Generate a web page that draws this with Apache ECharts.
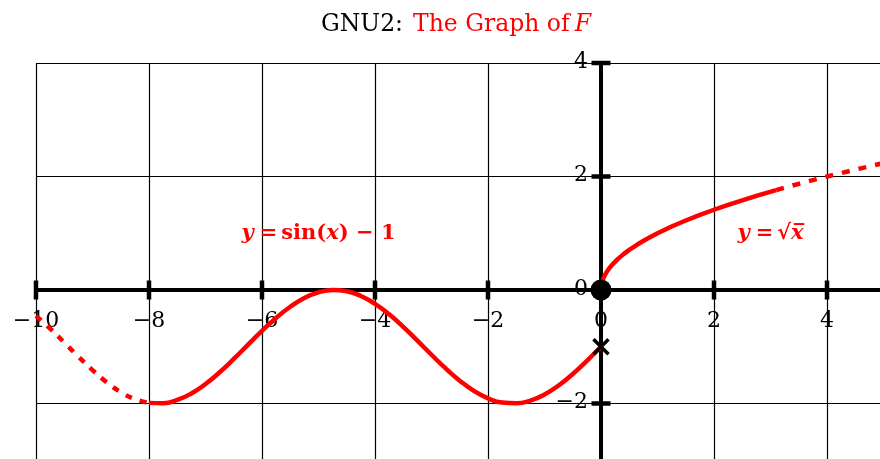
<!DOCTYPE html>
<html>
<head>
<meta charset="UTF-8">
<title>GNU2: The Graph of F</title>
<script src="https://cdn.jsdelivr.net/npm/echarts@6/dist/echarts.min.js"></script>
<style>
  html, body { margin: 0; padding: 0; background: #fff; }
  #main { width: 880px; height: 459px; }
</style>
</head>
<body>
<div id="main"></div>
<script>
  // y = sin(x) - 1, dashed part on [-10, -8]
  var sinDashX = [-10, -9.75, -9.5, -9.25, -9, -8.75, -8.5, -8.25, -8];
  var sinDashY = [-0.456, -0.680, -0.925, -1.174, -1.412, -1.625, -1.799, -1.922, -1.989];
  // solid part on [-8, 0]
  var sinX = [-8, -7.75, -7.5, -7.25, -7, -6.75, -6.5, -6.25, -6, -5.75, -5.5, -5.25, -5, -4.75, -4.5, -4.25,
    -4, -3.75, -3.5, -3.25, -3, -2.75, -2.5, -2.25, -2, -1.75, -1.5, -1.25, -1, -0.75, -0.5, -0.25, 0];
  var sinY = [-1.989, -1.995, -1.938, -1.823, -1.657, -1.450, -1.215, -0.967, -0.721, -0.492, -0.295, -0.141,
    -0.041, -0.001, -0.023, -0.105, -0.243, -0.428, -0.649, -0.892, -1.141, -1.382, -1.598, -1.778, -1.909,
    -1.984, -1.997, -1.949, -1.841, -1.682, -1.479, -1.247, -1.0];
  // y = sqrt(x), solid then dashed
  var sqrtX = [0, 0.005, 0.01, 0.02, 0.04, 0.07, 0.1, 0.15, 0.2, 0.3, 0.4, 0.5, 0.65, 0.8, 1, 1.25, 1.5, 1.75,
    2, 2.25, 2.5, 2.75, 3.1];
  var sqrtY = [0, 0.071, 0.1, 0.141, 0.2, 0.265, 0.316, 0.387, 0.447, 0.548, 0.632, 0.707, 0.806, 0.894, 1,
    1.118, 1.225, 1.323, 1.414, 1.5, 1.581, 1.658, 1.761];
  var sqrtDashX = [3.1, 3.5, 4, 4.5, 5, 5.5, 6];
  var sqrtDashY = [1.761, 1.871, 2, 2.121, 2.236, 2.345, 2.449];

  // tick positions / labels along the axes through the origin
  var xTicks = [-10, -8, -6, -4, -2, 0, 2, 4];
  var yTicks = [-2, 0, 2, 4];
  var closedPoint = [0, 0];
  var openPoint = [0, -1];

  function pairs(xs, ys) {
    return xs.map(function (x, i) { return [x, ys[i]]; });
  }

  var red = '#ff0000';
  var serif = '"DejaVu Serif", "Liberation Serif", serif';
  var fmt = function (v) { return String(v).replace('-', '\u2212'); };

  var chart = echarts.init(document.getElementById('main'));

  var option = {
    animation: false,
    title: {
      text: '{a|GNU2:}  {b|The Graph of} {c|F}',
      left: 316,
      top: 8,
      textStyle: {
        rich: {
          a: { fontFamily: serif, fontSize: 23.5, color: '#000', fontWeight: 'normal' },
          b: { fontFamily: serif, fontSize: 23.5, color: red, fontWeight: 'normal' },
          c: { fontFamily: serif, fontSize: 23.5, color: red, fontStyle: 'italic', fontWeight: 'normal' }
        }
      }
    },
    grid: { left: 36, right: -60, top: 63, bottom: -58, containLabel: false, outerBoundsMode: 'none' },
    xAxis: {
      type: 'value', min: -10, max: 6, interval: 2,
      axisLine: { onZero: true, lineStyle: { color: '#000', width: 4 } },
      axisTick: { show: false },
      axisLabel: { show: false },
      splitLine: { lineStyle: { color: '#000', width: 1.2 } }
    },
    yAxis: {
      type: 'value', min: -4, max: 4, interval: 2,
      axisLine: { onZero: true, lineStyle: { color: '#000', width: 4 } },
      axisTick: { show: false },
      axisLabel: { show: false },
      splitLine: { lineStyle: { color: '#000', width: 1.2 } }
    },
    series: [
      {
        type: 'scatter', symbol: 'rect', symbolSize: [4.5, 19], z: 3,
        itemStyle: { color: '#000', opacity: 1 }, silent: true,
        label: {
          show: true, position: 'inside', offset: [0, 31],
          fontFamily: serif, fontSize: 22, color: '#000',
          formatter: function (p) { return fmt(p.data[0]); }
        },
        data: xTicks.map(function (t) { return [t, 0]; })
      },
      {
        type: 'scatter', symbol: 'rect', symbolSize: [19, 4.5], z: 3,
        itemStyle: { color: '#000', opacity: 1 }, silent: true,
        label: {
          show: true, position: 'inside', align: 'right', offset: [-13, -1],
          fontFamily: serif, fontSize: 22, color: '#000',
          formatter: function (p) { return fmt(p.data[1]); }
        },
        data: yTicks.map(function (t) { return [0, t]; })
      },
      {
        type: 'line', data: pairs(sinDashX, sinDashY), smooth: true, showSymbol: false,
        lineStyle: { color: red, width: 4.5, type: [7, 8] }, z: 4
      },
      {
        type: 'line', data: pairs(sinX, sinY), smooth: true, showSymbol: false,
        lineStyle: { color: red, width: 4.5 }, z: 4
      },
      {
        type: 'line', data: pairs(sqrtX, sqrtY), smooth: false, showSymbol: false,
        lineStyle: { color: red, width: 4.5, join: 'round' }, z: 4
      },
      {
        type: 'line', data: pairs(sqrtDashX, sqrtDashY), smooth: false, showSymbol: false,
        lineStyle: { color: red, width: 4.5, type: [8, 9] }, z: 4
      },
      {
        type: 'scatter', symbol: 'circle', symbolSize: 21, z: 6,
        itemStyle: { color: '#000', opacity: 1 }, data: [closedPoint]
      },
      {
        type: 'scatter', z: 6, symbolSize: 15,
        symbol: 'path://M0,0 L10,10 M10,0 L0,10',
        itemStyle: { color: 'none', borderColor: '#000', borderWidth: 3.5, opacity: 1 },
        data: [openPoint]
      },
      {
        type: 'scatter', symbolSize: 0, z: 5, silent: true,
        itemStyle: { opacity: 1 },
        label: {
          show: true, position: 'inside', color: red,
          formatter: function (p) { return p.data[2]; },
          rich: {
            i: { fontFamily: serif, fontSize: 21, fontStyle: 'italic', fontWeight: 'bold', color: red },
            s: { fontFamily: serif, fontSize: 21, fontWeight: 'bold', color: red, padding: [0, 4, 0, 6] },
            r: { fontFamily: serif, fontSize: 21, fontWeight: 'bold', color: red }
          }
        },
        data: [
          [-5, 1, '{i|y}{s|=}{r|sin(}{i|x}{r|) \u2212 1}'],
          [3, 1, '{i|y}{s|=}{r|\u221A}{i|x\u0305}']
        ]
      }
    ]
  };

  chart.setOption(option);
</script>
</body>
</html>
